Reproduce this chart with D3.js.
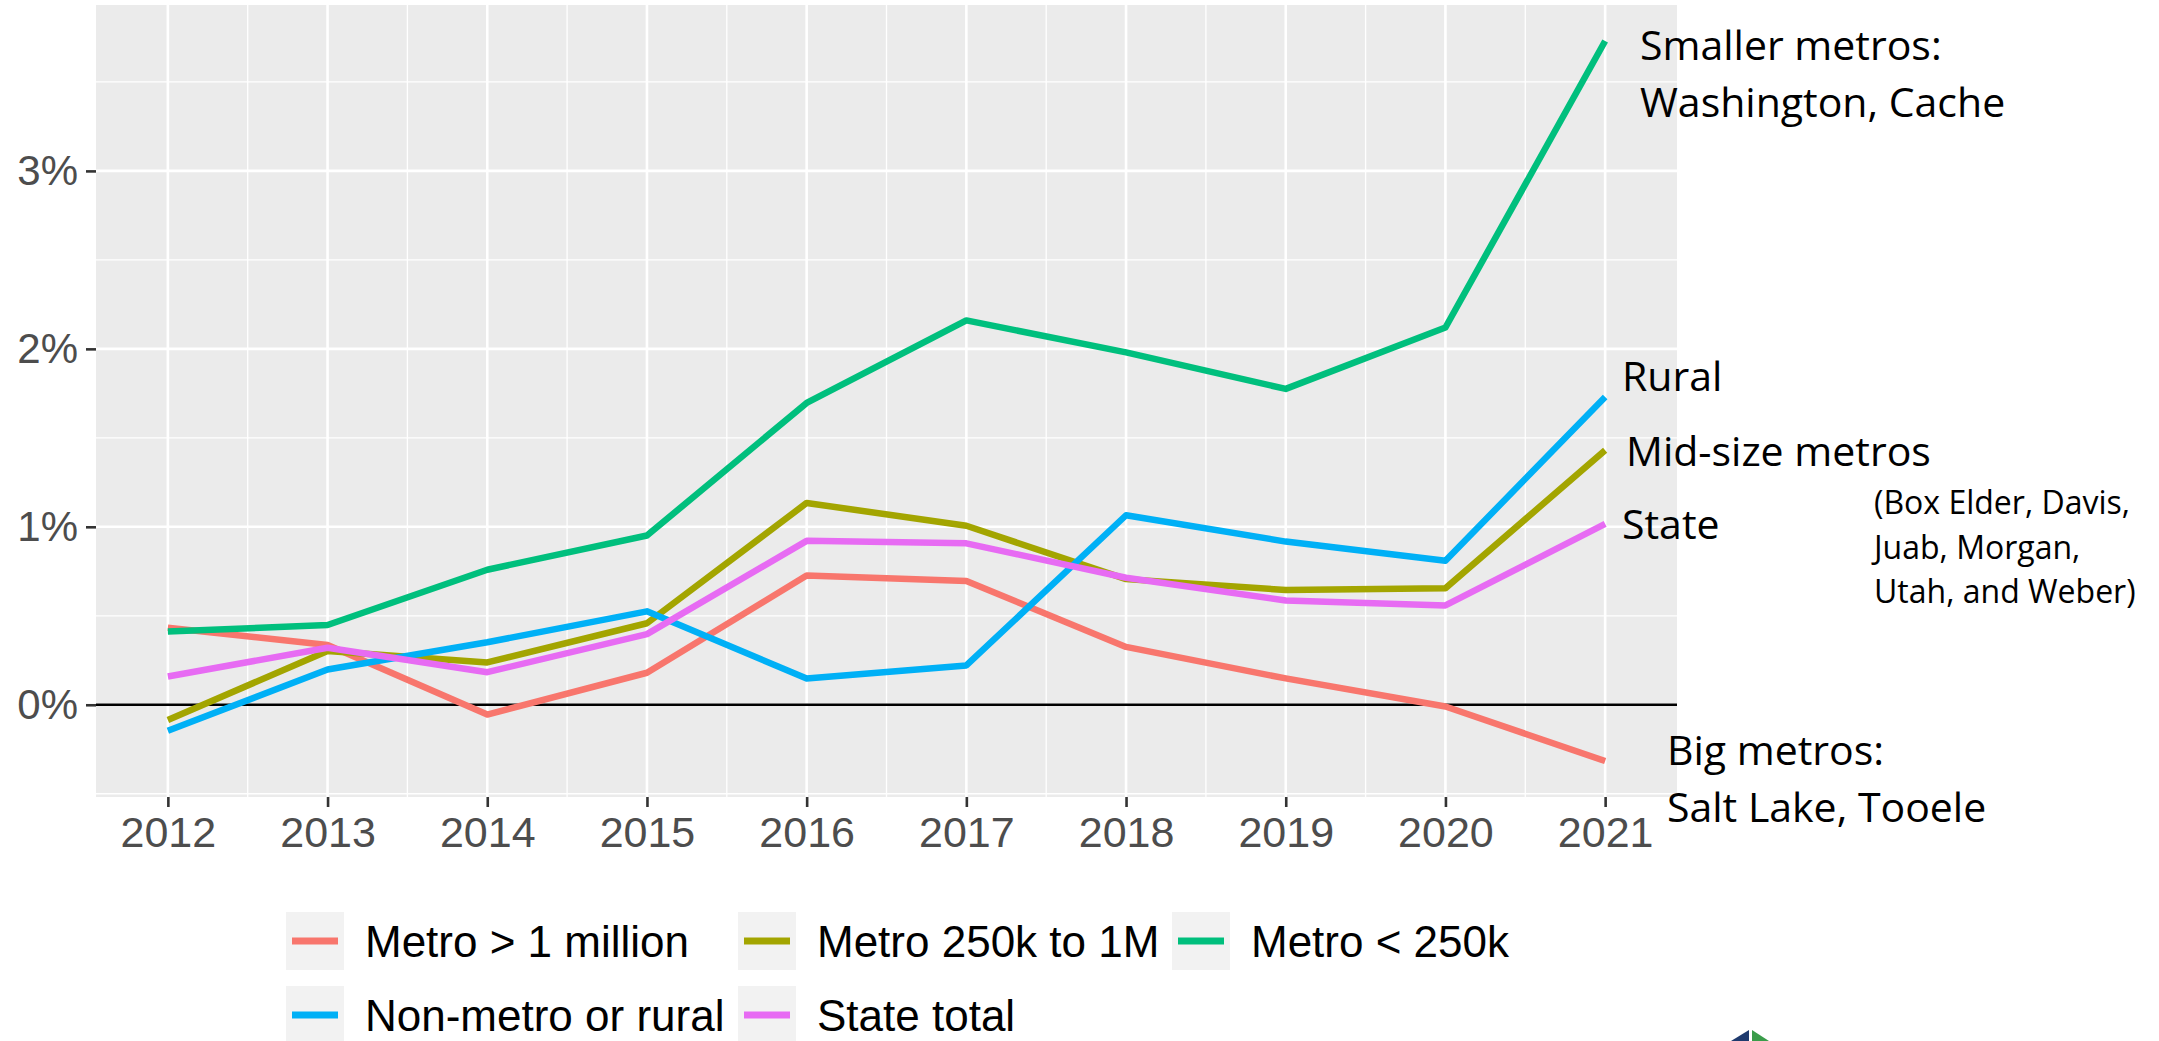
<!DOCTYPE html>
<html>
<head>
<meta charset="utf-8">
<script src="https://cdn.jsdelivr.net/npm/d3@7"></script>
<style>
  body { margin: 0; background: #fff; }
  svg { display: block; }
</style>
</head>
<body>
<div id="chart"></div>
<script>
// data (annual growth, in percent)
const years = [2012, 2013, 2014, 2015, 2016, 2017, 2018, 2019, 2020, 2021];
const metroBig = [0.433, 0.336, -0.055, 0.18, 0.726, 0.696, 0.325, 0.148, -0.01, -0.316];
const metroMid = [-0.085, 0.302, 0.238, 0.458, 1.134, 1.006, 0.706, 0.645, 0.655, 1.43];
const metroSmall = [0.412, 0.448, 0.759, 0.951, 1.696, 2.16, 1.98, 1.775, 2.12, 3.73];
const rural = [-0.146, 0.198, 0.351, 0.525, 0.148, 0.221, 1.065, 0.917, 0.809, 1.73];
const stateTotal = [0.159, 0.32, 0.183, 0.397, 0.921, 0.907, 0.714, 0.586, 0.558, 1.016];

const seriesNames = ["Metro > 1 million", "Metro 250k to 1M", "Metro < 250k", "Non-metro or rural", "State total"];
const seriesValues = [metroBig, metroMid, metroSmall, rural, stateTotal];
const seriesColors = ["#F8766D", "#A3A500", "#00BF7D", "#00B0F6", "#E76BF3"];

const yTicks = [0, 1, 2, 3];
const yTickLabels = ["0%", "1%", "2%", "3%"];
const yMinor = [-0.5, 0.5, 1.5, 2.5, 3.5];

const labelSmaller = ["Smaller metros:", "Washington, Cache"];
const labelBig = ["Big metros:", "Salt Lake, Tooele"];
const labelMidNote = ["(Box Elder, Davis,", "Juab, Morgan,", "Utah, and Weber)"];

const W = 2159, H = 1041;
const panel = { left: 96, right: 1677, top: 5, bottom: 797 };

var svg = d3.select("#chart").append("svg")
  .attr("width", W).attr("height", H);

// scales with ggplot-style 5% expansion
var allVals = seriesValues.flat();
var yMin = d3.min(allVals), yMax = d3.max(allVals);
var yPad = (yMax - yMin) * 0.05;
var y = d3.scaleLinear()
  .domain([yMin - yPad, yMax + yPad])
  .range([panel.bottom, panel.top]);
var xPad = (years[years.length - 1] - years[0]) * 0.05;
var x = d3.scaleLinear()
  .domain([years[0] - xPad, years[years.length - 1] + xPad])
  .range([panel.left, panel.right]);

// panel background
svg.append("rect")
  .attr("x", panel.left).attr("y", panel.top)
  .attr("width", panel.right - panel.left)
  .attr("height", panel.bottom - panel.top)
  .attr("fill", "#ebebeb");

// minor grid
var xMinor = years.slice(0, -1).map(d => d + 0.5);
svg.append("g").selectAll("line").data(xMinor).enter().append("line")
  .attr("x1", d => x(d)).attr("x2", d => x(d))
  .attr("y1", panel.top).attr("y2", panel.bottom)
  .attr("stroke", "#fff").attr("stroke-width", 1.3);
svg.append("g").selectAll("line").data(yMinor).enter().append("line")
  .attr("x1", panel.left).attr("x2", panel.right)
  .attr("y1", d => y(d)).attr("y2", d => y(d))
  .attr("stroke", "#fff").attr("stroke-width", 1.3);

// major grid
svg.append("g").selectAll("line").data(years).enter().append("line")
  .attr("x1", d => x(d)).attr("x2", d => x(d))
  .attr("y1", panel.top).attr("y2", panel.bottom)
  .attr("stroke", "#fff").attr("stroke-width", 2.6);
svg.append("g").selectAll("line").data(yTicks).enter().append("line")
  .attr("x1", panel.left).attr("x2", panel.right)
  .attr("y1", d => y(d)).attr("y2", d => y(d))
  .attr("stroke", "#fff").attr("stroke-width", 2.6);

// zero line
svg.append("line")
  .attr("x1", panel.left).attr("x2", panel.right)
  .attr("y1", y(0)).attr("y2", y(0))
  .attr("stroke", "#000").attr("stroke-width", 2.4);

// axes
const xAxis = d3.axisBottom(x).tickValues(years).tickFormat(d3.format("d"))
  .tickSize(10).tickPadding(9);
var gx = svg.append("g")
  .attr("transform", "translate(0," + panel.bottom + ")")
  .call(xAxis);
gx.select(".domain").remove();
gx.selectAll(".tick line").attr("stroke", "#333").attr("stroke-width", 2.6);
gx.selectAll(".tick text")
  .attr("fill", "#4d4d4d")
  .attr("font-family", "'Liberation Sans', Arial, sans-serif")
  .attr("font-size", 43)
  .attr("dy", "0.71em");

const yAxis = d3.axisLeft(y).tickValues(yTicks)
  .tickFormat((d, i) => yTickLabels[i]).tickSize(10).tickPadding(8);
var gy = svg.append("g")
  .attr("transform", "translate(" + panel.left + ",0)")
  .call(yAxis);
gy.select(".domain").remove();
gy.selectAll(".tick line").attr("stroke", "#333").attr("stroke-width", 2.6);
gy.selectAll(".tick text")
  .attr("fill", "#4d4d4d")
  .attr("font-family", "'Liberation Sans', Arial, sans-serif")
  .attr("font-size", 42);

// lines
var line = d3.line()
  .x((d, i) => x(years[i]))
  .y(d => y(d));
svg.append("g").selectAll("path").data(seriesValues).enter().append("path")
  .attr("d", d => line(d))
  .attr("fill", "none")
  .attr("stroke", (d, i) => seriesColors[i])
  .attr("stroke-width", 6.5)
  .attr("stroke-linejoin", "round");

// annotations
var ann = svg.append("g")
  .attr("font-family", "'Open Sans', sans-serif")
  .attr("fill", "#000");
function addLines(lines, x0, y0, dy, size) {
  lines.forEach(function (t, i) {
    ann.append("text")
      .attr("x", x0).attr("y", y0 + i * dy)
      .attr("font-size", size)
      .text(t);
  });
}
addLines(labelSmaller, 1640, 60, 56.5, 41);
addLines(["Rural"], 1622, 391, 0, 41);
addLines(["Mid-size metros"], 1626, 466, 0, 41);
addLines(["State"], 1622, 539, 0, 41);
addLines(labelMidNote, 1874, 514, 44.5, 32);
addLines(labelBig, 1667, 765, 56.5, 41);

// legend
var legendCols = [286, 738, 1172];
var legendRows = [912, 986];
var leg = svg.append("g")
  .attr("font-family", "'Liberation Sans', Arial, sans-serif");
seriesNames.forEach(function (name, i) {
  var col = i % 3, row = Math.floor(i / 3);
  var lx = legendCols[col], ly = legendRows[row];
  var item = leg.append("g").attr("transform", "translate(" + lx + "," + ly + ")");
  item.append("rect")
    .attr("width", 58).attr("height", 58)
    .attr("fill", "#f2f2f2");
  item.append("line")
    .attr("x1", 6).attr("x2", 52)
    .attr("y1", 29).attr("y2", 29)
    .attr("stroke", seriesColors[i]).attr("stroke-width", 7);
  item.append("text")
    .attr("x", 79).attr("y", 45)
    .attr("font-size", 44)
    .attr("fill", "#000")
    .text(name);
});

// partial logo at bottom edge
var logo = svg.append("g");
logo.append("polygon")
  .attr("points", "1749,1030 1749,1041 1731,1041")
  .attr("fill", "#1f3a6e");
logo.append("polygon")
  .attr("points", "1752,1030 1752,1041 1769,1041")
  .attr("fill", "#3a9c4a");
</script>
</body>
</html>
